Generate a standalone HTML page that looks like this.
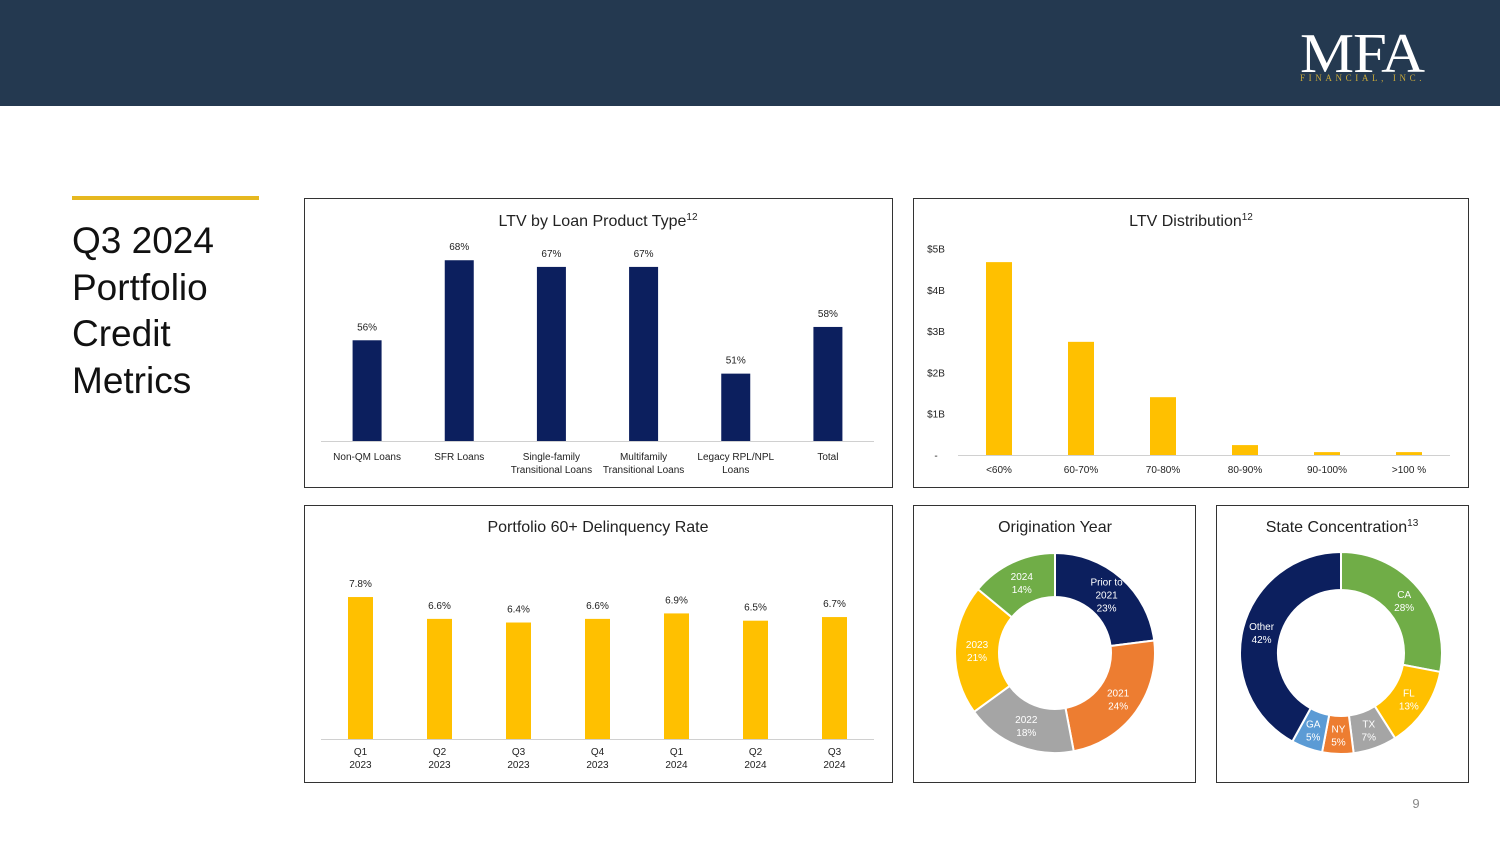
<!DOCTYPE html>
<html><head><meta charset="utf-8"><style>
html,body{margin:0;padding:0;background:#fff;}
body{width:1500px;height:844px;overflow:hidden;font-family:"Liberation Sans",sans-serif;}
svg{display:block;}
</style></head><body>
<svg id="page" width="1500" height="844" viewBox="0 0 1500 844" xmlns="http://www.w3.org/2000/svg" font-family="Liberation Sans, sans-serif">
<rect x="0" y="0" width="1500" height="106" fill="#243950"/>
<g>
<text x="1362" y="72" text-anchor="middle" font-family="Liberation Serif, serif" font-size="56" fill="#fff" letter-spacing="-1" textLength="124" lengthAdjust="spacingAndGlyphs">MFA</text>
<text x="1362" y="81" text-anchor="middle" font-family="Liberation Serif, serif" font-size="9" fill="#c9a93a" letter-spacing="2.5" textLength="124">FINANCIAL, INC.</text>
</g>
<rect x="72" y="196" width="187" height="4" fill="#e6b820"/>
<g font-size="37" fill="#111">
<text x="72" y="253">Q3 2024</text><text x="72" y="300">Portfolio</text><text x="72" y="346">Credit</text><text x="72" y="393">Metrics</text>
</g>
<rect x="304.5" y="198.5" width="588" height="289" fill="#fff" stroke="#333"/>
<rect x="913.5" y="198.5" width="555" height="289" fill="#fff" stroke="#333"/>
<rect x="304.5" y="505.5" width="588" height="277" fill="#fff" stroke="#333"/>
<rect x="913.5" y="505.5" width="282" height="277" fill="#fff" stroke="#333"/>
<rect x="1216.5" y="505.5" width="252" height="277" fill="#fff" stroke="#333"/>
<text x="598" y="226" text-anchor="middle" font-size="16" fill="#222">LTV by Loan Product Type<tspan font-size="10" dy="-6">12</tspan></text>
<text x="1191" y="226" text-anchor="middle" font-size="16" fill="#222">LTV Distribution<tspan font-size="10" dy="-6">12</tspan></text>
<text x="598" y="532" text-anchor="middle" font-size="16" fill="#222">Portfolio 60+ Delinquency Rate</text>
<text x="1055" y="532" text-anchor="middle" font-size="16" fill="#222">Origination Year</text>
<text x="1342" y="532" text-anchor="middle" font-size="16" fill="#222">State Concentration<tspan font-size="10" dy="-6">13</tspan></text>
<g id="c1"></g><g id="c2"></g><g id="c3"></g><g id="c4"></g><g id="c5"></g>
<text x="1416" y="808" text-anchor="middle" font-size="13" fill="#888">9</text>
</svg>
<script>
const productCats = [["Non-QM Loans"],["SFR Loans"],["Single-family","Transitional Loans"],["Multifamily","Transitional Loans"],["Legacy RPL/NPL","Loans"],["Total"]];
const productLtv = [56, 68, 67, 67, 51, 58];
const distCats = ["<60%","60-70%","70-80%","80-90%","90-100%",">100 %"];
const distValues = [4.67, 2.74, 1.40, 0.24, 0.07, 0.07];
const distTicks = ["-","$1B","$2B","$3B","$4B","$5B"];
const delqCats = [["Q1","2023"],["Q2","2023"],["Q3","2023"],["Q4","2023"],["Q1","2024"],["Q2","2024"],["Q3","2024"]];
const delqRates = [7.8, 6.6, 6.4, 6.6, 6.9, 6.5, 6.7];
const origLabels = [["Prior to","2021","23%"],["2021","24%"],["2022","18%"],["2023","21%"],["2024","14%"]];
const origShares = [23, 24, 18, 21, 14];
const stateLabels = [["CA","28%"],["FL","13%"],["TX","7%"],["NY","5%"],["GA","5%"],["Other","42%"]];
const stateShares = [28, 13, 7, 5, 5, 42];

const NS="http://www.w3.org/2000/svg";
function mk(tag, attrs, parent){const e=document.createElementNS(NS,tag);for(const k in attrs)e.setAttribute(k,attrs[k]);parent.appendChild(e);return e;}
function txt(lines,x,y,lh,attrs,parent){const t=mk('text',Object.assign({x:x,y:y,'text-anchor':'middle'},attrs),parent);lines.forEach((l,i)=>{const s=mk('tspan',{x:x,dy:i?lh:0},t);s.textContent=l;});return t;}

// Chart 1
(function(){
const g=document.getElementById('c1');
const base=441, x0=321, x1=874, n=productCats.length, step=(x1-x0)/n;
const y=v=>base-(v-40.9)*6.67;
const xc=i=>x0+step*(i+0.5);
const ax=mk('line',{x1:x0,x2:x1,y1:base+0.5,y2:base+0.5,stroke:'#d0d0d0'},g);


productLtv.forEach((v,i)=>{
 const b=mk('rect',{x:xc(i)-14.5,y:y(v),width:29,height:base-y(v),fill:'#0c1f5e'},g);
 
 
 const l=txt([v+'%'],xc(i),y(v)-10,0,{'font-size':10,fill:'#222'},g);
 
 
 const c=txt(productCats[i],xc(i),460,13,{'font-size':10,fill:'#222'},g);
 
 
});
})();
// Chart 2
(function(){
const g=document.getElementById('c2');
const base=455, x0=958, x1=1450, n=distCats.length, step=(x1-x0)/n;
const y=v=>base-v*41.3;
const xc=i=>x0+step*(i+0.5);
distTicks.forEach((t,i)=>{
 const l=txt([t],936,y(i)+4,0,{'font-size':10,fill:'#222'},g);
 
 
});
const ax=mk('line',{x1:x0,x2:x1,y1:base+0.5,y2:base+0.5,stroke:'#d0d0d0'},g);


distValues.forEach((v,i)=>{
 const b=mk('rect',{x:xc(i)-13,y:y(v),width:26,height:base-y(v),fill:'#ffc000'},g);
 
 
 const c=txt([distCats[i]],xc(i),473,0,{'font-size':10,fill:'#222'},g);
 
 
});
})();
// Chart 3
(function(){
const g=document.getElementById('c3');
const base=739, x0=321, x1=874, n=delqCats.length, step=(x1-x0)/n;
const y=v=>base-v*18.2;
const xc=i=>x0+step*(i+0.5);
const ax=mk('line',{x1:x0,x2:x1,y1:base+0.5,y2:base+0.5,stroke:'#d0d0d0'},g);


delqRates.forEach((v,i)=>{
 const b=mk('rect',{x:xc(i)-12.5,y:y(v),width:25,height:base-y(v),fill:'#ffc000'},g);
 
 
 const l=txt([v.toFixed(1)+'%'],xc(i),y(v)-10,0,{'font-size':10,fill:'#222'},g);
 
 
 const c=txt(delqCats[i],xc(i),755,13,{'font-size':10,fill:'#222'},g);
 
 
});
})();
// Donuts
function donut(id,cx,cy,ro,ri,shares,labels,colors,name){
 const g=document.getElementById(id);
 const tot=shares.reduce((a,b)=>a+b,0);
 let a=0;
 const pt=(r,t)=>[cx+r*Math.sin(t),cy-r*Math.cos(t)];
 shares.forEach((s,i)=>{
  const a0=a/tot*2*Math.PI, a1=(a+s)/tot*2*Math.PI; a+=s;
  const lg=(a1-a0)>Math.PI?1:0;
  const p0=pt(ro,a0),p1=pt(ro,a1),q1=pt(ri,a1),q0=pt(ri,a0);
  const d=`M${p0} A${ro},${ro} 0 ${lg} 1 ${p1} L${q1} A${ri},${ri} 0 ${lg} 0 ${q0} Z`;
  const p=mk('path',{d:d,fill:colors[i],stroke:'#fff','stroke-width':2},g);
  
  
  const m=(a0+a1)/2, lp=pt((ro+ri)/2,m);
  const ls=labels[i];
  const t=txt(ls,lp[0],lp[1]-(ls.length-1)*6.5+4,13,{'font-size':10,fill:'#fff'},g);
  
  
 });
}
donut('c4',1055,653,100,56,origShares,origLabels,['#0c1f5e','#ed7d31','#a5a5a5','#ffc000','#70ad47'],'origination');
donut('c5',1341,653,101,63,stateShares,stateLabels,['#70ad47','#ffc000','#a5a5a5','#ed7d31','#5b9bd5','#0c1f5e'],'state');
</script>
</body></html>
